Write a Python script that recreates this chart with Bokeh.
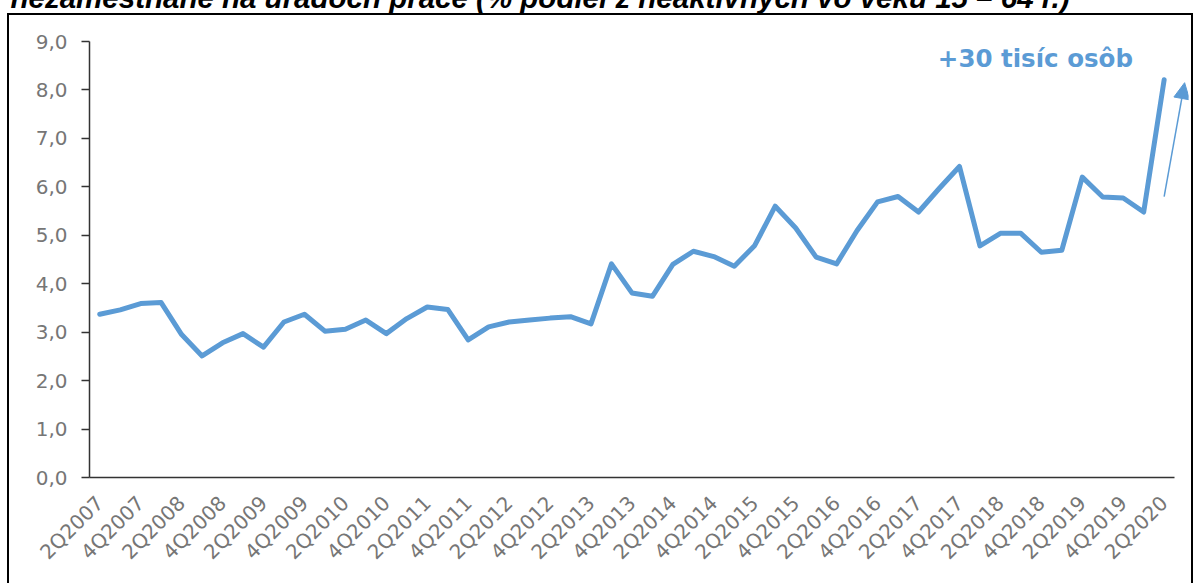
from bokeh.plotting import figure
from bokeh.models import Range1d, FixedTicker, Label, Arrow, NormalHead, Title
from bokeh.embed import file_html
from bokeh.resources import INLINE

# ---------------- data ----------------
quarters = [
    "2Q2007", "3Q2007", "4Q2007", "1Q2008", "2Q2008", "3Q2008", "4Q2008",
    "1Q2009", "2Q2009", "3Q2009", "4Q2009", "1Q2010", "2Q2010", "3Q2010",
    "4Q2010", "1Q2011", "2Q2011", "3Q2011", "4Q2011", "1Q2012", "2Q2012",
    "3Q2012", "4Q2012", "1Q2013", "2Q2013", "3Q2013", "4Q2013", "1Q2014",
    "2Q2014", "3Q2014", "4Q2014", "1Q2015", "2Q2015", "3Q2015", "4Q2015",
    "1Q2016", "2Q2016", "3Q2016", "4Q2016", "1Q2017", "2Q2017", "3Q2017",
    "4Q2017", "1Q2018", "2Q2018", "3Q2018", "4Q2018", "1Q2019", "2Q2019",
    "3Q2019", "4Q2019", "1Q2020", "2Q2020",
]
share = [
    3.37, 3.46, 3.59, 3.61, 2.95, 2.51, 2.78, 2.97, 2.69, 3.21,
    3.37, 3.02, 3.06, 3.25, 2.97, 3.28, 3.52, 3.47, 2.84, 3.11,
    3.21, 3.25, 3.29, 3.32, 3.17, 4.41, 3.81, 3.74, 4.40, 4.67,
    4.56, 4.36, 4.79, 5.60, 5.15, 4.55, 4.41, 5.10, 5.69, 5.80,
    5.48, 5.96, 6.42, 4.78, 5.04, 5.04, 4.65, 4.69, 6.20, 5.79,
    5.77, 5.48, 8.21,
]
x_tick_labels = quarters[::2]
y_ticks = [0, 1, 2, 3, 4, 5, 6, 7, 8, 9]
y_tick_labels = ["0,0", "1,0", "2,0", "3,0", "4,0", "5,0", "6,0", "7,0", "8,0", "9,0"]

title_text = "nezamestnané na úradoch práce (% podiel z neaktívnych vo veku 15 – 64 r.)"
note_text = "+30 tisíc osôb"

# annotation placement (data units)
note_x, note_y = 45.71, 8.65
arrow_x0, arrow_y0, arrow_x1, arrow_y1 = 52.0, 5.8, 53.0, 8.15

BLUE = "#5B9BD5"
GREY = "#767676"
AXIS = "#333333"

n = len(quarters)
x_idx = list(range(n))

# outer chart box drawn as CSS background lines of the figure element
box_css = {
    "background-color": "#ffffff",
    "background-image": ("linear-gradient(#000,#000), linear-gradient(#000,#000), "
                         "linear-gradient(#000,#000)"),
    "background-position": "7px 13px, 7px 13px, 1191px 13px",
    "background-size": "1186px 2px, 2px 600px, 2px 600px",
    "background-repeat": "no-repeat",
}

W, H = 1200, 583
p = figure(
    width=W, height=H,
    x_range=Range1d(-0.5, 53.19),
    y_range=Range1d(0, 9),
    output_backend="svg", toolbar_location=None,
    min_border_left=89, min_border_right=12, min_border_top=40, min_border_bottom=106,
    background_fill_color=None, border_fill_color=None,
    styles=box_css,
)
p.outline_line_color = None
p.grid.visible = False

# spacer next to the frame, then the title, which ends up cut by the top edge
p.add_layout(Title(text=" ", text_font_size="1px", standoff=38), "above")
p.add_layout(Title(text=title_text, align="left", vertical_align="top",
                   text_font="Liberation Sans", text_font_style="bold italic",
                   text_font_size="29.5px", text_color="black",
                   offset=-79, standoff=-40), "above")

p.line(x_idx, share, line_width=5, color=BLUE, line_join="round", line_cap="round")

# y axis
p.yaxis.ticker = FixedTicker(ticks=y_ticks)
p.yaxis.major_label_overrides = {t: l for t, l in zip(y_ticks, y_tick_labels)}
p.yaxis.major_tick_out = 8
p.yaxis.major_tick_in = 0
p.yaxis.minor_tick_out = 0
p.yaxis.minor_tick_in = 0
p.yaxis.axis_line_color = AXIS
p.yaxis.axis_line_width = 1.5
p.yaxis.major_tick_line_color = AXIS
p.yaxis.major_tick_line_width = 1.5
p.yaxis.major_label_text_font = "DejaVu Sans"
p.yaxis.major_label_text_font_size = "20px"
p.yaxis.major_label_text_color = GREY
p.yaxis.major_label_standoff = 14

# x axis
even_idx = x_idx[::2]
p.xaxis.ticker = FixedTicker(ticks=even_idx)
p.xaxis.bounds = (-0.5, n - 0.5)
p.xaxis.major_label_overrides = {i: l for i, l in zip(even_idx, x_tick_labels)}
p.xaxis.major_label_orientation = 0.785398
p.xaxis.major_tick_out = 0
p.xaxis.major_tick_in = 0
p.xaxis.minor_tick_out = 0
p.xaxis.minor_tick_in = 0
p.xaxis.axis_line_color = AXIS
p.xaxis.axis_line_width = 1.5
p.xaxis.major_label_text_font = "DejaVu Sans"
p.xaxis.major_label_text_font_size = "20px"
p.xaxis.major_label_text_color = GREY
p.xaxis.major_label_standoff = 22

p.add_layout(Label(x=note_x, y=note_y, text=note_text, text_align="center",
                   text_baseline="alphabetic", text_font="DejaVu Sans",
                   text_font_style="bold", text_font_size="24.5px", text_color=BLUE))

p.add_layout(Arrow(end=NormalHead(size=16, fill_color=BLUE, line_color=BLUE),
                   x_start=arrow_x0, y_start=arrow_y0, x_end=arrow_x1, y_end=arrow_y1,
                   line_color=BLUE, line_width=1.5))

open("out.html", "w").write(file_html(p, INLINE))
